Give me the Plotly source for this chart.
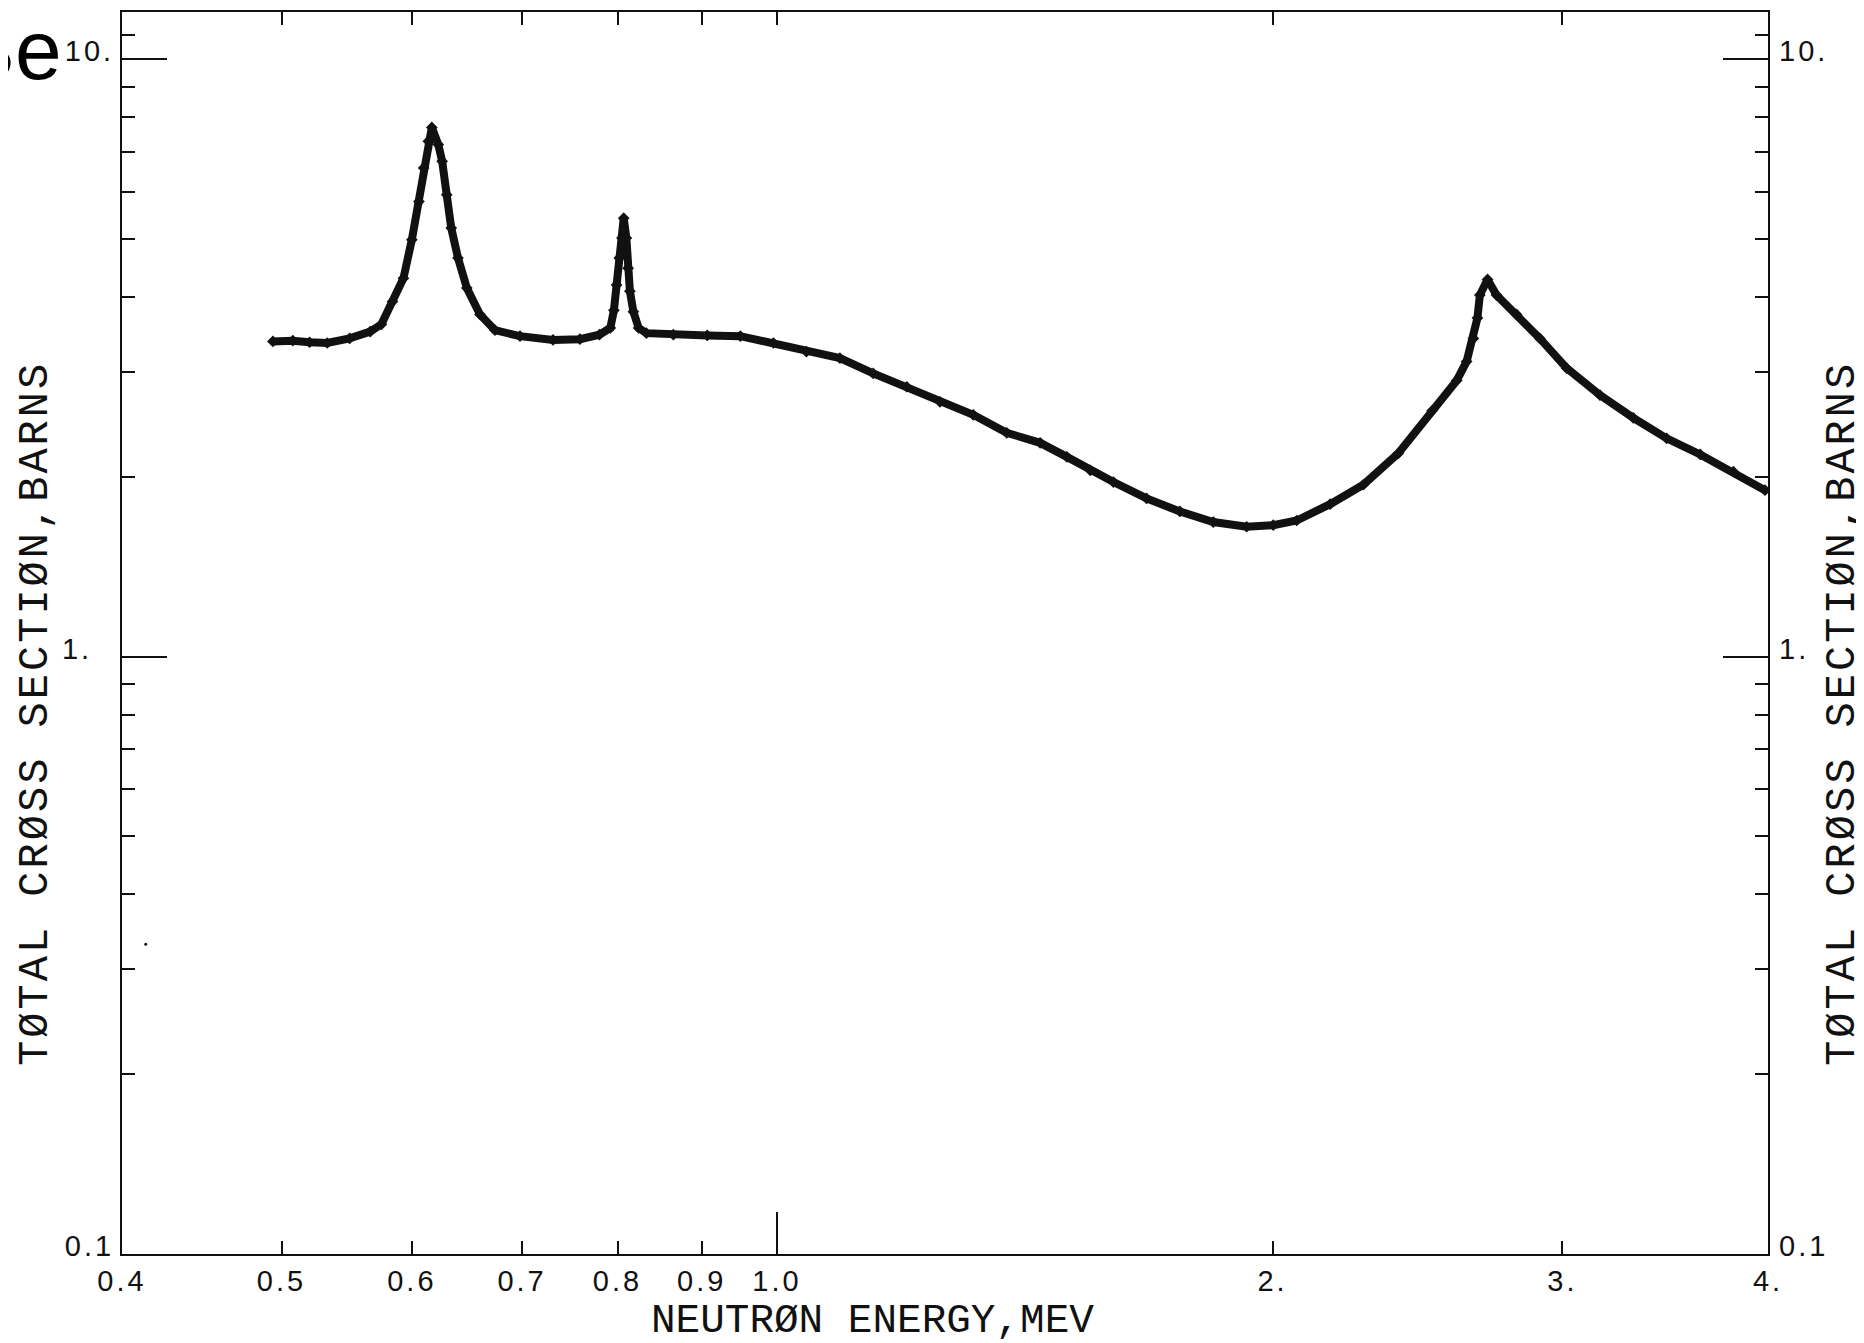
import math
import plotly.graph_objects as go

# ---- data (Be total neutron cross section) ----
energy_mev = [0.494, 0.508, 0.520, 0.533, 0.550, 0.566, 0.575, 0.584, 0.593, 0.600,
              0.606, 0.610, 0.614, 0.617, 0.6226, 0.626, 0.630, 0.634, 0.640, 0.648,
              0.660, 0.674, 0.698, 0.731, 0.759, 0.780, 0.792, 0.796, 0.799, 0.802,
              0.805, 0.807, 0.810, 0.812, 0.814, 0.818, 0.824, 0.833, 0.865, 0.907,
              0.950, 0.995, 1.042, 1.092, 1.144, 1.199, 1.256, 1.316, 1.379, 1.445,
              1.500, 1.550, 1.601, 1.677, 1.757, 1.841, 1.929, 2.002, 2.069, 2.168,
              2.271, 2.385, 2.500, 2.588, 2.624, 2.649, 2.664, 2.673, 2.702, 2.736,
              2.814, 2.907, 3.018, 3.162, 3.313, 3.471, 3.638, 3.811, 3.983]
sigma_barns = [3.37, 3.38, 3.36, 3.35, 3.41, 3.50, 3.60, 3.93, 4.30, 4.99,
               5.78, 6.58, 7.29, 7.69, 7.20, 6.75, 5.93, 5.22, 4.65, 4.14,
               3.74, 3.52, 3.44, 3.39, 3.40, 3.46, 3.55, 3.80, 4.19, 4.65,
               5.02, 5.42, 5.02, 4.47, 4.09, 3.78, 3.55, 3.48, 3.46, 3.45,
               3.44, 3.35, 3.24, 3.16, 2.98, 2.83, 2.67, 2.54, 2.37, 2.28,
               2.16, 2.05, 1.96, 1.84, 1.75, 1.68, 1.65, 1.66, 1.69, 1.80,
               1.94, 2.19, 2.58, 2.90, 3.12, 3.41, 3.69, 4.03, 4.28, 4.03,
               3.74, 3.41, 3.04, 2.74, 2.51, 2.32, 2.18, 2.04, 1.90]

stray_energy = [0.4135]
stray_sigma = [0.33]

x_tickvals = [0.4, 0.5, 0.6, 0.7, 0.8, 0.9, 1.0, 2.0, 3.0, 4.0]
x_ticktext = ["0.4", "0.5", "0.6", "0.7", "0.8", "0.9", "1.0", "2.", "3.", "4."]
x_long_tick = [1.0]
y_tickvals = [0.1, 1.0, 10.0]
y_ticktext_left = ["0.1", "1.&nbsp;&nbsp;", "10."]
y_ticktext_right = ["0.1", "1.", "10."]
y_minor = [0.2, 0.3, 0.4, 0.5, 0.6, 0.7, 0.8, 0.9,
           2, 3, 4, 5, 6, 7, 8, 9, 11]

x_title = "NEUTRØN ENERGY,MEV"
y_title = "TØTAL CRØSS SECTIØN,BARNS"
element = "Be"

TITLE_FONT = "Liberation Mono, DejaVu Sans Mono, monospace"
TICK_FONT = "Liberation Sans, Arial, sans-serif"
INK = "#111111"

# plot area as it lands on the page (page body has an 8px margin)
PL, PT, PW, PH = 122, 10, 1646, 1244


def spaced(t, px):
    return '<span style="letter-spacing:%dpx">%s</span>' % (px, t)


def px_x(p):
    return (p - PL) / PW


def px_y(p):
    return 1 - (p - PT) / PH


xr = [math.log10(0.4), math.log10(4.0)]
yr = [-1, math.log10(12.0)]

fig = go.Figure()
fig.add_trace(go.Scatter(
    x=energy_mev, y=sigma_barns, mode="lines+markers",
    line=dict(color=INK, width=8),
    marker=dict(symbol="diamond", size=9, color=INK),
    showlegend=False, hoverinfo="skip"))
fig.add_trace(go.Scatter(
    x=stray_energy, y=stray_sigma, mode="markers",
    marker=dict(symbol="circle", size=3, color=INK),
    showlegend=False, hoverinfo="skip"))
# helper traces so the overlay axes are drawn
fig.add_trace(go.Scatter(x=[], y=[], xaxis="x2", yaxis="y", showlegend=False))
fig.add_trace(go.Scatter(x=[], y=[], xaxis="x", yaxis="y2", showlegend=False))

tickfont = dict(family=TICK_FONT, size=29, color=INK)

fig.update_layout(
    width=1864, height=1343,
    margin=dict(l=114, r=104, t=2, b=97),
    paper_bgcolor="white", plot_bgcolor="white",
    xaxis=dict(type="log", range=xr, tickmode="array", tickvals=x_tickvals,
               ticktext=[spaced(t, 3) for t in x_ticktext],
               ticks="inside", ticklen=13, tickwidth=1.5, tickcolor=INK,
               showline=True, linewidth=2, linecolor=INK, mirror="ticks",
               showgrid=False, zeroline=False, tickfont=tickfont,
               ticklabelstandoff=0),
    xaxis2=dict(type="log", range=xr, overlaying="x", side="bottom", anchor="y",
                tickmode="array", tickvals=x_long_tick, ticks="inside",
                ticklen=42, tickwidth=1.8, tickcolor=INK,
                showticklabels=False, showline=False, showgrid=False,
                zeroline=False),
    yaxis=dict(type="log", range=yr, tickmode="array", tickvals=y_tickvals,
               ticktext=[spaced(t, 3) for t in y_ticktext_left],
               ticks="inside", ticklen=45, tickwidth=1.8, tickcolor=INK,
               minor=dict(tickmode="array", tickvals=y_minor, ticks="inside",
                          ticklen=13, tickwidth=1.5, tickcolor=INK, showgrid=False),
               showline=True, linewidth=2, linecolor=INK, mirror="ticks",
               showgrid=False, zeroline=False, tickfont=tickfont,
               ticklabelshift=-8, ticklabelstandoff=0),
    yaxis2=dict(type="log", range=yr, overlaying="y", side="right", anchor="x",
                tickmode="array", tickvals=y_tickvals,
                ticktext=[spaced(t, 3) for t in y_ticktext_right],
                ticks="", showline=False, showgrid=False, zeroline=False,
                tickfont=tickfont, ticklabelshift=-8, ticklabelstandoff=10),
    annotations=[
        dict(text=x_title, xref="paper", yref="paper",
             x=px_x(872), y=px_y(1321),
             xanchor="center", yanchor="middle", showarrow=False,
             font=dict(family=TITLE_FONT, size=41, color=INK)),
        dict(text=spaced(y_title, 3), xref="paper", yref="paper",
             x=px_x(36), y=px_y(713), textangle=-90,
             xanchor="center", yanchor="middle", showarrow=False,
             font=dict(family=TITLE_FONT, size=42, color=INK)),
        dict(text=spaced(y_title, 3), xref="paper", yref="paper",
             x=px_x(1843), y=px_y(713), textangle=-90,
             xanchor="center", yanchor="middle", showarrow=False,
             font=dict(family=TITLE_FONT, size=42, color=INK)),
        dict(text=element, xref="paper", yref="paper",
             x=px_x(64), y=px_y(48),
             xanchor="right", yanchor="middle", showarrow=False,
             font=dict(family="Liberation Sans, Arial, sans-serif", size=84,
                       color="#000000")),
    ],
)

fig.write_html("out.html")
